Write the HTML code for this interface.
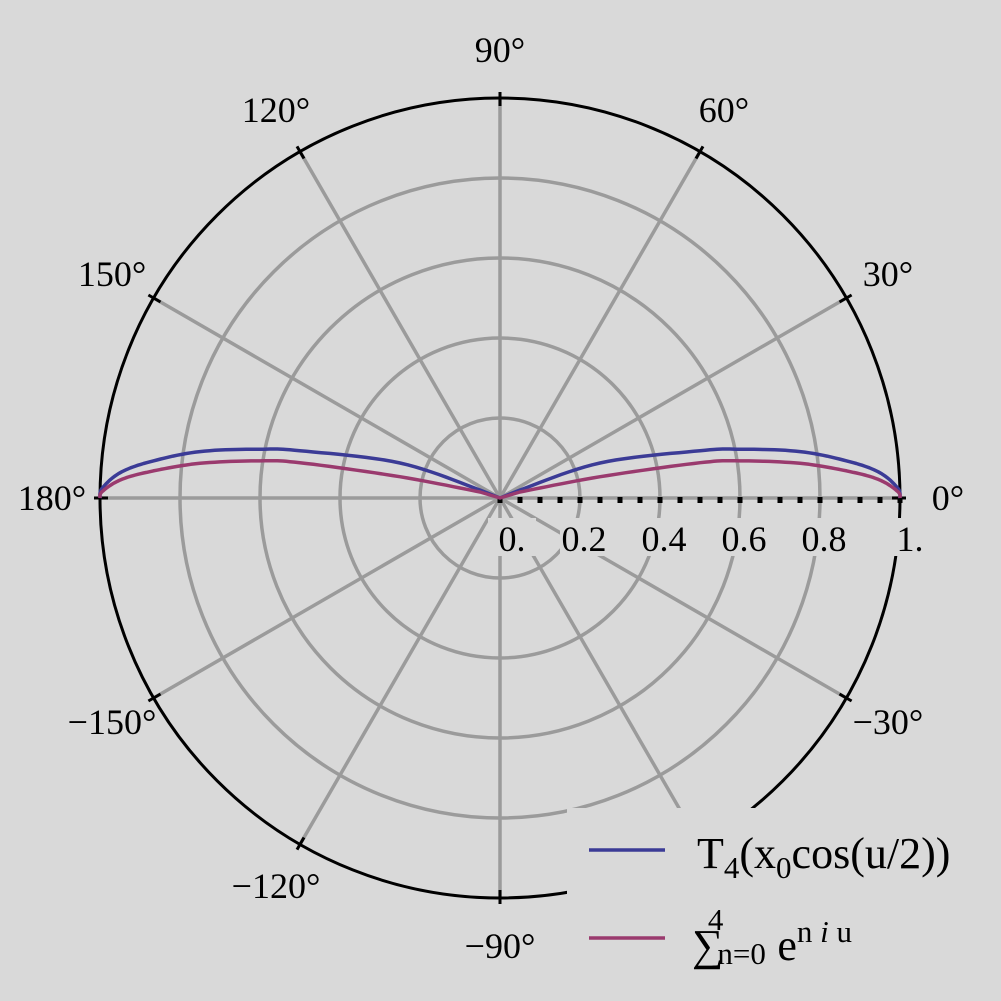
<!DOCTYPE html>
<html><head><meta charset="utf-8"><style>
html,body{margin:0;padding:0;background:#d9d9d9;}
svg{display:block;font-family:"Liberation Serif",serif;}
</style></head><body>
<svg id="chart" width="1001" height="1001" viewBox="0 0 1001 1001" xmlns="http://www.w3.org/2000/svg">
<rect x="0" y="0" width="1001" height="1001" fill="#d9d9d9"/>
<g id="grid"></g>
<g id="series"></g>
<g id="labels"></g>
<g>
<rect x="567" y="808" width="434" height="193" fill="#d9d9d9"/>
<line x1="589" y1="850" x2="665" y2="850" stroke="#3b3b96" stroke-width="3.5"/>
<text x="697" y="868" font-size="44">T<tspan font-size="31" dy="10">4</tspan><tspan dy="-10">(x</tspan><tspan font-size="31" dy="10">0</tspan><tspan dy="-10">cos(u/2))</tspan></text>
<line x1="589" y1="938" x2="665" y2="938" stroke="#9a3a6e" stroke-width="3.5"/>
<text x="692" y="960" font-size="44">∑<tspan font-size="31" dx="-6" dy="4">n=0</tspan><tspan font-size="31" dx="-58" dy="-34">4</tspan><tspan dx="54" dy="30">e</tspan><tspan font-size="31" dy="-18">n <tspan font-style="italic">i</tspan> u</tspan></text>
</g>
</svg>
<script>
const angleTicks=[0,30,60,90,120,150,180,-150,-120,-90,-60,-30];
const angleLabels=["0°","30°","60°","90°","120°","150°","180°","−150°","−120°","−90°","−60°","−30°"];
const radialTicks=[0,0.2,0.4,0.6,0.8,1];
const radialLabels=["0.","0.2","0.4","0.6","0.8","1."];
const blueTheta=[21.8,19.3,13.3,11.5,8.8,5.9,3.8,1.4,0];
const blueR=[0.054,0.265,0.514,0.612,0.759,0.880,0.952,0.995,1];
const magTheta=[16.7,12.0,10.0,8.8,6.6,4.3,2.7,0.9,0];
const magR=[0.052,0.256,0.508,0.607,0.755,0.878,0.951,0.995,1];

const NS="http://www.w3.org/2000/svg";
const cx=500,cy=498,R=400;
function px(r,t){return cx+r*R*Math.cos(t*Math.PI/180);}
function py(r,t){return cy-r*R*Math.sin(t*Math.PI/180);}
function mk(tag,attrs,parent){const e=document.createElementNS(NS,tag);for(const k in attrs)e.setAttribute(k,attrs[k]);parent.appendChild(e);return e;}
const grid=document.getElementById('grid'),series=document.getElementById('series'),labels=document.getElementById('labels');

radialTicks.forEach((v,i)=>{if(v>0&&v<1){
const c=mk('circle',{cx:cx,cy:cy,r:v*R,fill:'none',stroke:'#9b9b9b','stroke-width':3.5},grid);

}});
angleTicks.forEach(t=>{
const l=mk('line',{x1:cx,y1:cy,x2:px(1,t),y2:py(1,t),stroke:'#9b9b9b','stroke-width':3.5},grid);

});
const oc=mk('circle',{cx:cx,cy:cy,r:R,fill:'none',stroke:'#000','stroke-width':3},grid);


angleTicks.forEach(t=>{
const l=mk('line',{x1:px(0.98,t),y1:py(0.98,t),x2:px(1.015,t),y2:py(1.015,t),stroke:'#000','stroke-width':3},grid);

});
for(let k=0;k<=20;k++){
const x=px(k*0.05,0);
const m=mk('rect',{x:x-2.5,y:cy-1,width:5,height:6,fill:'#000'},grid);

}

function smooth(pts){
const out=[];
for(let i=0;i<pts.length-1;i++){
const p0=pts[Math.max(i-1,0)],p1=pts[i],p2=pts[i+1],p3=pts[Math.min(i+2,pts.length-1)];
for(let s=0;s<12;s++){const t=s/12,t2=t*t,t3=t2*t;
out.push([0,1].map(k=>0.5*(2*p1[k]+(-p0[k]+p2[k])*t+(2*p0[k]-5*p1[k]+4*p2[k]-p3[k])*t2+(-p0[k]+3*p1[k]-3*p2[k]+p3[k])*t3)));}}
out.push(pts[pts.length-1]);return out;}
function curve(th,rr,color,name){
const right=[];for(let i=0;i<th.length;i++)right.push([px(rr[i],th[i]),py(rr[i],th[i])]);
const left=[];for(let i=th.length-1;i>=0;i--)left.push([px(rr[i],180-th[i]),py(rr[i],180-th[i])]);
const a=smooth(left),b=smooth(right);
const pts=a.concat([[cx,cy]]).concat(b);
const p=mk('polyline',{points:pts.map(p=>p[0].toFixed(1)+','+p[1].toFixed(1)).join(' '),fill:'none',stroke:color,'stroke-width':3.5,'stroke-linejoin':'round'},series);

}
curve(blueTheta,blueR,'#3b3b96','series-t4');
curve(magTheta,magR,'#9a3a6e','series-sum');

angleTicks.forEach((t,i)=>{
const rr=1.12;
const tx=mk('text',{x:px(rr,t),y:py(rr,t)+12,'font-size':36,'text-anchor':'middle'},labels);
tx.textContent=angleLabels[i];

});
radialTicks.forEach((v,i)=>{
const x=px(v,0)+(v===0?12:v===1?10:4);
const bg=mk('rect',{x:x-24,y:518,width:48,height:38,fill:'#d9d9d9'},labels);


const tx=mk('text',{x:x,y:551,'font-size':36,'text-anchor':'middle'},labels);
tx.textContent=radialLabels[i];

});
</script>
</body></html>
